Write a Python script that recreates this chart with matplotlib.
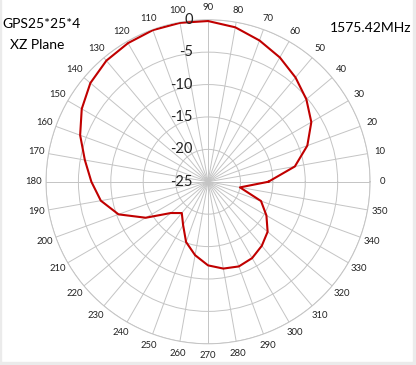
import numpy as np
import matplotlib
matplotlib.use("Agg")
import matplotlib.pyplot as plt
from matplotlib.patches import Rectangle

plt.rcParams['font.family'] = ['Lato', 'DejaVu Sans']

# pattern data, XZ plane (dB), every 10 degrees
angles_deg = [0, 10, 20, 30, 40, 50, 60, 70, 80, 90, 100, 110, 120, 130, 140, 150, 160, 170,
              180, 190, 200, 210, 220, 230, 240, 250, 260, 270, 280, 290, 300, 310, 320, 330, 340, 350]
gain_db = [-15.7, -11.4, -8.7, -6.6, -5.2, -4.0, -2.85, -1.8, -0.8, -0.2, -0.1, -0.1, -0.3, -0.6, -1.3, -2.5, -4.0, -5.7,
           -7.0, -8.2, -10.3, -13.9, -17.5, -18.7, -17.3, -15.1, -13.5, -12.1, -11.4, -11.1, -11.4, -12.1, -13.0, -14.6, -16.3, -20.0]
r_ticks = [-25, -20, -15, -10, -5, 0]
r_labels = ['-25', '-20', '-15', '-10', '-5', '0']

fig = plt.figure(figsize=(4.16, 3.65), dpi=100)
# light grey frame like the original screenshot
fig.patches.append(Rectangle((413/416, 0), 3/416, 1, transform=fig.transFigure, color='#ebebeb', zorder=0))
fig.patches.append(Rectangle((0, 0), 1, 3/365, transform=fig.transFigure, color='#ebebeb', zorder=0))
fig.patches.append(Rectangle((0, 0), 1.2/416, 1, transform=fig.transFigure, color='#ebebeb', zorder=0))

ax = fig.add_axes([0.1106, 0.058, 0.779, 0.888], projection='polar')

th = np.deg2rad(angles_deg + [angles_deg[0]])
rr = gain_db + [gain_db[0]]
ax.plot(th, rr, color='#c00000', lw=1.5, zorder=5)

ax.set_ylim(-25, 0)
ax.set_rgrids(r_ticks, labels=['']*len(r_ticks))
ax.set_thetagrids(angles_deg, labels=['']*len(angles_deg))
ax.grid(color='#c4c4c4', lw=0.7)
ax.spines['polar'].set_color('#c4c4c4')
ax.spines['polar'].set_linewidth(0.7)

for a in angles_deg:
    ax.text(np.deg2rad(a), 1.85, str(a), ha='center', va='center', fontsize=6.8,
            color='#222222', clip_on=False)

for r, lab in zip(r_ticks, r_labels):
    ax.annotate(lab, xy=(np.pi/2, r), xytext=(-11, 0), textcoords='offset points',
                ha='right', va='center', fontsize=10.5, color='#222222', zorder=6)

fig.text(0.005, 0.934, 'GPS25*25*4', fontsize=10, ha='left', va='center')
fig.text(0.025, 0.877, 'XZ Plane', fontsize=10, ha='left', va='center')
fig.text(0.99, 0.922, '1575.42MHz', fontsize=10, ha='right', va='center')

fig.savefig('out.png', dpi=100, facecolor='white')
